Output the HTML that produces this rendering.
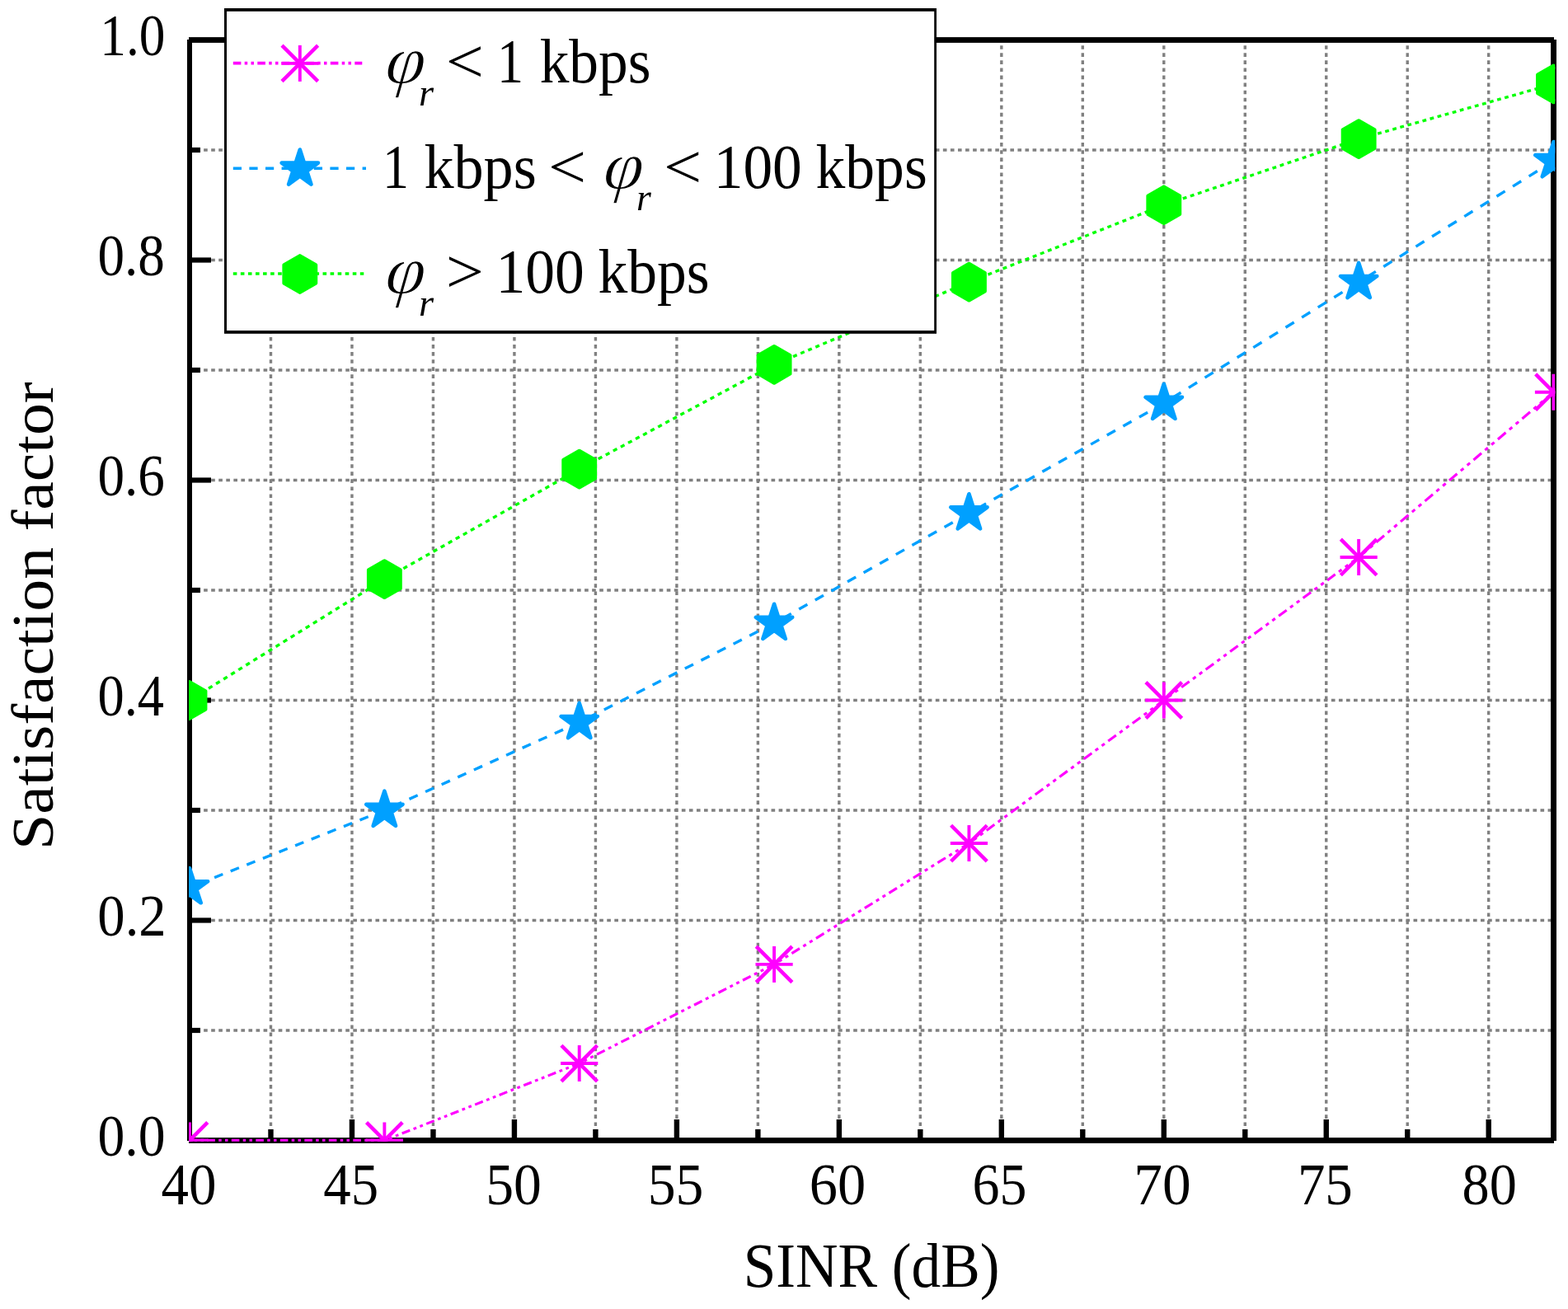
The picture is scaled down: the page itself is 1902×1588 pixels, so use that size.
<!DOCTYPE html>
<html lang="en"><head><meta charset="utf-8"><title>Satisfaction factor vs SINR</title>
<style>html,body{margin:0;padding:0;background:#fff}body{width:1902px;height:1588px;overflow:hidden}svg{display:block;font-family:"Liberation Serif","DejaVu Serif",serif;font-size:100px;fill:#000}</style>
</head><body>
<svg width="1902" height="1588" viewBox="0 0 1902 1588">
<rect x="0" y="0" width="1902" height="1588" fill="#fff"/>
<defs><clipPath id="plotclip"><rect x="229" y="40" width="1657.3" height="1344.8"/></clipPath></defs>
<g stroke="#808080" fill="none">
<line x1="328.48" y1="46.13" x2="328.48" y2="1381" stroke-width="3.4" stroke-dasharray="4.65 4.421"/>
<line x1="426.96" y1="46.13" x2="426.96" y2="1381" stroke-width="3.4" stroke-dasharray="4.65 4.421"/>
<line x1="525.45" y1="46.13" x2="525.45" y2="1381" stroke-width="3.4" stroke-dasharray="4.65 4.421"/>
<line x1="623.93" y1="46.13" x2="623.93" y2="1381" stroke-width="3.4" stroke-dasharray="4.65 4.421"/>
<line x1="722.41" y1="46.13" x2="722.41" y2="1381" stroke-width="3.4" stroke-dasharray="4.65 4.421"/>
<line x1="820.89" y1="46.13" x2="820.89" y2="1381" stroke-width="3.4" stroke-dasharray="4.65 4.421"/>
<line x1="919.38" y1="46.13" x2="919.38" y2="1381" stroke-width="3.4" stroke-dasharray="4.65 4.421"/>
<line x1="1017.86" y1="46.13" x2="1017.86" y2="1381" stroke-width="3.4" stroke-dasharray="4.65 4.421"/>
<line x1="1116.34" y1="46.13" x2="1116.34" y2="1381" stroke-width="3.4" stroke-dasharray="4.65 4.421"/>
<line x1="1214.82" y1="46.13" x2="1214.82" y2="1381" stroke-width="3.4" stroke-dasharray="4.65 4.421"/>
<line x1="1313.30" y1="46.13" x2="1313.30" y2="1381" stroke-width="3.4" stroke-dasharray="4.65 4.421"/>
<line x1="1411.79" y1="46.13" x2="1411.79" y2="1381" stroke-width="3.4" stroke-dasharray="4.65 4.421"/>
<line x1="1510.27" y1="46.13" x2="1510.27" y2="1381" stroke-width="3.4" stroke-dasharray="4.65 4.421"/>
<line x1="1608.75" y1="46.13" x2="1608.75" y2="1381" stroke-width="3.4" stroke-dasharray="4.65 4.421"/>
<line x1="1707.23" y1="46.13" x2="1707.23" y2="1381" stroke-width="3.4" stroke-dasharray="4.65 4.421"/>
<line x1="1805.71" y1="46.13" x2="1805.71" y2="1381" stroke-width="3.4" stroke-dasharray="4.65 4.421"/>
<line x1="229" y1="1250.00" x2="1882" y2="1250.00" stroke-width="3.5" stroke-dasharray="4.65 4.408"/>
<line x1="229" y1="1116.50" x2="1882" y2="1116.50" stroke-width="3.5" stroke-dasharray="4.65 4.408"/>
<line x1="229" y1="983.00" x2="1882" y2="983.00" stroke-width="3.5" stroke-dasharray="4.65 4.408"/>
<line x1="229" y1="849.50" x2="1882" y2="849.50" stroke-width="3.5" stroke-dasharray="4.65 4.408"/>
<line x1="229" y1="716.00" x2="1882" y2="716.00" stroke-width="3.5" stroke-dasharray="4.65 4.408"/>
<line x1="229" y1="582.50" x2="1882" y2="582.50" stroke-width="3.5" stroke-dasharray="4.65 4.408"/>
<line x1="229" y1="449.00" x2="1882" y2="449.00" stroke-width="3.5" stroke-dasharray="4.65 4.408"/>
<line x1="229" y1="315.50" x2="1882" y2="315.50" stroke-width="3.5" stroke-dasharray="4.65 4.408"/>
<line x1="229" y1="182.00" x2="1882" y2="182.00" stroke-width="3.5" stroke-dasharray="4.65 4.408"/>
</g>
<g fill="#000">
<rect x="325.28" y="1370.00" width="6.4" height="12"/>
<rect x="423.76" y="1358.00" width="6.4" height="24"/>
<rect x="522.25" y="1370.00" width="6.4" height="12"/>
<rect x="620.73" y="1358.00" width="6.4" height="24"/>
<rect x="719.21" y="1370.00" width="6.4" height="12"/>
<rect x="817.69" y="1358.00" width="6.4" height="24"/>
<rect x="916.17" y="1370.00" width="6.4" height="12"/>
<rect x="1014.66" y="1358.00" width="6.4" height="24"/>
<rect x="1113.14" y="1370.00" width="6.4" height="12"/>
<rect x="1211.62" y="1358.00" width="6.4" height="24"/>
<rect x="1310.10" y="1370.00" width="6.4" height="12"/>
<rect x="1408.59" y="1358.00" width="6.4" height="24"/>
<rect x="1507.07" y="1370.00" width="6.4" height="12"/>
<rect x="1605.55" y="1358.00" width="6.4" height="24"/>
<rect x="1704.03" y="1370.00" width="6.4" height="12"/>
<rect x="1802.51" y="1358.00" width="6.4" height="24"/>
<rect x="232" y="1246.90" width="11" height="6.2"/>
<rect x="232" y="1113.40" width="24" height="6.2"/>
<rect x="232" y="979.90" width="11" height="6.2"/>
<rect x="232" y="846.40" width="24" height="6.2"/>
<rect x="232" y="712.90" width="11" height="6.2"/>
<rect x="232" y="579.40" width="24" height="6.2"/>
<rect x="232" y="445.90" width="11" height="6.2"/>
<rect x="232" y="312.40" width="24" height="6.2"/>
<rect x="232" y="178.90" width="11" height="6.2"/>
</g>
<g fill="#000">
<rect x="229" y="45.1" width="1656" height="6.8"/>
<rect x="229" y="1380.1" width="1656" height="6.8"/>
<rect x="227" y="48" width="6" height="1336"/>
<rect x="1881.1" y="48" width="6.9" height="1336"/>
</g>
<g clip-path="url(#plotclip)">
<g fill="none" stroke="#ff00ff"><line x1="230.00" y1="1383.50" x2="466.36" y2="1383.50" stroke-width="3.31" stroke-dasharray="9.600 4.300 3.500 4.300 3.500 4.300" stroke-dashoffset="8.200"/><line x1="466.36" y1="1383.50" x2="702.71" y2="1290.05" stroke-width="3.13" stroke-dasharray="10.323 4.624 3.764 4.624 3.764 4.624" stroke-dashoffset="8.818"/><line x1="702.71" y1="1290.05" x2="939.07" y2="1169.90" stroke-width="3.13" stroke-dasharray="10.769 4.824 3.926 4.824 3.926 4.824" stroke-dashoffset="9.199"/><line x1="939.07" y1="1169.90" x2="1175.43" y2="1023.05" stroke-width="3.13" stroke-dasharray="11.302 5.062 4.121 5.062 4.121 5.062" stroke-dashoffset="9.654"/><line x1="1175.43" y1="1023.05" x2="1411.79" y2="849.50" stroke-width="3.13" stroke-dasharray="11.910 5.335 4.342 5.335 4.342 5.335" stroke-dashoffset="10.173"/><line x1="1411.79" y1="849.50" x2="1648.14" y2="675.95" stroke-width="3.13" stroke-dasharray="11.910 5.335 4.342 5.335 4.342 5.335" stroke-dashoffset="10.173"/><line x1="1648.14" y1="675.95" x2="1884.50" y2="475.70" stroke-width="3.13" stroke-dasharray="12.582 5.636 4.587 5.636 4.587 5.636" stroke-dashoffset="10.747"/></g>
<g stroke="#ff00ff" fill="none" stroke-linecap="butt"><line x1="207.40" y1="1383.50" x2="252.60" y2="1383.50" stroke-width="3.9"/><line x1="230.00" y1="1361.50" x2="230.00" y2="1405.50" stroke-width="3.9"/><line x1="208.20" y1="1361.70" x2="251.80" y2="1405.30" stroke-width="4.5"/><line x1="208.20" y1="1405.30" x2="251.80" y2="1361.70" stroke-width="4.5"/></g>
<g stroke="#ff00ff" fill="none" stroke-linecap="butt"><line x1="443.76" y1="1383.50" x2="488.96" y2="1383.50" stroke-width="3.9"/><line x1="466.36" y1="1361.50" x2="466.36" y2="1405.50" stroke-width="3.9"/><line x1="444.56" y1="1361.70" x2="488.16" y2="1405.30" stroke-width="4.5"/><line x1="444.56" y1="1405.30" x2="488.16" y2="1361.70" stroke-width="4.5"/></g>
<g stroke="#ff00ff" fill="none" stroke-linecap="butt"><line x1="680.11" y1="1290.05" x2="725.31" y2="1290.05" stroke-width="3.9"/><line x1="702.71" y1="1268.05" x2="702.71" y2="1312.05" stroke-width="3.9"/><line x1="680.91" y1="1268.25" x2="724.51" y2="1311.85" stroke-width="4.5"/><line x1="680.91" y1="1311.85" x2="724.51" y2="1268.25" stroke-width="4.5"/></g>
<g stroke="#ff00ff" fill="none" stroke-linecap="butt"><line x1="916.47" y1="1169.90" x2="961.67" y2="1169.90" stroke-width="3.9"/><line x1="939.07" y1="1147.90" x2="939.07" y2="1191.90" stroke-width="3.9"/><line x1="917.27" y1="1148.10" x2="960.87" y2="1191.70" stroke-width="4.5"/><line x1="917.27" y1="1191.70" x2="960.87" y2="1148.10" stroke-width="4.5"/></g>
<g stroke="#ff00ff" fill="none" stroke-linecap="butt"><line x1="1152.83" y1="1023.05" x2="1198.03" y2="1023.05" stroke-width="3.9"/><line x1="1175.43" y1="1001.05" x2="1175.43" y2="1045.05" stroke-width="3.9"/><line x1="1153.63" y1="1001.25" x2="1197.23" y2="1044.85" stroke-width="4.5"/><line x1="1153.63" y1="1044.85" x2="1197.23" y2="1001.25" stroke-width="4.5"/></g>
<g stroke="#ff00ff" fill="none" stroke-linecap="butt"><line x1="1389.19" y1="849.50" x2="1434.39" y2="849.50" stroke-width="3.9"/><line x1="1411.79" y1="827.50" x2="1411.79" y2="871.50" stroke-width="3.9"/><line x1="1389.99" y1="827.70" x2="1433.59" y2="871.30" stroke-width="4.5"/><line x1="1389.99" y1="871.30" x2="1433.59" y2="827.70" stroke-width="4.5"/></g>
<g stroke="#ff00ff" fill="none" stroke-linecap="butt"><line x1="1625.54" y1="675.95" x2="1670.74" y2="675.95" stroke-width="3.9"/><line x1="1648.14" y1="653.95" x2="1648.14" y2="697.95" stroke-width="3.9"/><line x1="1626.34" y1="654.15" x2="1669.94" y2="697.75" stroke-width="4.5"/><line x1="1626.34" y1="697.75" x2="1669.94" y2="654.15" stroke-width="4.5"/></g>
<g stroke="#ff00ff" fill="none" stroke-linecap="butt"><line x1="1861.90" y1="475.70" x2="1907.10" y2="475.70" stroke-width="3.9"/><line x1="1884.50" y1="453.70" x2="1884.50" y2="497.70" stroke-width="3.9"/><line x1="1862.70" y1="453.90" x2="1906.30" y2="497.50" stroke-width="4.5"/><line x1="1862.70" y1="497.50" x2="1906.30" y2="453.90" stroke-width="4.5"/></g>
<g fill="none" stroke="#00a0ff"><line x1="230.00" y1="1076.45" x2="466.36" y2="983.00" stroke-width="3.40" stroke-dasharray="10.968 10.108" stroke-dashoffset="9.785"/><line x1="466.36" y1="983.00" x2="702.71" y2="876.20" stroke-width="3.40" stroke-dasharray="11.193 10.315" stroke-dashoffset="9.986"/><line x1="702.71" y1="876.20" x2="939.07" y2="756.05" stroke-width="3.40" stroke-dasharray="11.442 10.545" stroke-dashoffset="10.208"/><line x1="939.07" y1="756.05" x2="1175.43" y2="622.55" stroke-width="3.40" stroke-dasharray="11.715 10.796" stroke-dashoffset="10.451"/><line x1="1175.43" y1="622.55" x2="1411.79" y2="489.05" stroke-width="3.40" stroke-dasharray="11.715 10.796" stroke-dashoffset="10.451"/><line x1="1411.79" y1="489.05" x2="1648.14" y2="342.20" stroke-width="3.40" stroke-dasharray="12.008 11.067" stroke-dashoffset="10.713"/><line x1="1648.14" y1="342.20" x2="1884.50" y2="195.35" stroke-width="3.40" stroke-dasharray="12.008 11.067" stroke-dashoffset="10.713"/></g>
<polygon points="230.00,1053.15 235.23,1069.25 252.16,1069.25 238.46,1079.20 243.70,1095.30 230.00,1085.35 216.30,1095.30 221.54,1079.20 207.84,1069.25 224.77,1069.25" fill="#00a0ff" stroke="#00a0ff" stroke-width="4.6" stroke-linejoin="round"/>
<polygon points="466.36,959.70 471.59,975.80 488.52,975.80 474.82,985.75 480.05,1001.85 466.36,991.90 452.66,1001.85 457.89,985.75 444.20,975.80 461.13,975.80" fill="#00a0ff" stroke="#00a0ff" stroke-width="4.6" stroke-linejoin="round"/>
<polygon points="702.71,852.90 707.95,869.00 724.87,869.00 711.18,878.95 716.41,895.05 702.71,885.10 689.02,895.05 694.25,878.95 680.55,869.00 697.48,869.00" fill="#00a0ff" stroke="#00a0ff" stroke-width="4.6" stroke-linejoin="round"/>
<polygon points="939.07,732.75 944.30,748.85 961.23,748.85 947.54,758.80 952.77,774.90 939.07,764.95 925.38,774.90 930.61,758.80 916.91,748.85 933.84,748.85" fill="#00a0ff" stroke="#00a0ff" stroke-width="4.6" stroke-linejoin="round"/>
<polygon points="1175.43,599.25 1180.66,615.35 1197.59,615.35 1183.89,625.30 1189.12,641.40 1175.43,631.45 1161.73,641.40 1166.96,625.30 1153.27,615.35 1170.20,615.35" fill="#00a0ff" stroke="#00a0ff" stroke-width="4.6" stroke-linejoin="round"/>
<polygon points="1411.79,465.75 1417.02,481.85 1433.95,481.85 1420.25,491.80 1425.48,507.90 1411.79,497.95 1398.09,507.90 1403.32,491.80 1389.63,481.85 1406.55,481.85" fill="#00a0ff" stroke="#00a0ff" stroke-width="4.6" stroke-linejoin="round"/>
<polygon points="1648.14,318.90 1653.37,335.00 1670.30,335.00 1656.61,344.95 1661.84,361.05 1648.14,351.10 1634.45,361.05 1639.68,344.95 1625.98,335.00 1642.91,335.00" fill="#00a0ff" stroke="#00a0ff" stroke-width="4.6" stroke-linejoin="round"/>
<polygon points="1884.50,172.05 1889.73,188.15 1906.66,188.15 1892.96,198.10 1898.20,214.20 1884.50,204.25 1870.80,214.20 1876.04,198.10 1862.34,188.15 1879.27,188.15" fill="#00a0ff" stroke="#00a0ff" stroke-width="4.6" stroke-linejoin="round"/>
<g fill="none" stroke="#00ff00"><line x1="230.00" y1="849.50" x2="466.36" y2="702.65" stroke-width="3.40" stroke-dasharray="5.416 5.251" stroke-dashoffset="4.898"/><line x1="466.36" y1="702.65" x2="702.71" y2="569.15" stroke-width="3.40" stroke-dasharray="5.283 5.122" stroke-dashoffset="4.778"/><line x1="702.71" y1="569.15" x2="939.07" y2="442.33" stroke-width="3.40" stroke-dasharray="5.220 5.062" stroke-dashoffset="4.721"/><line x1="939.07" y1="442.33" x2="1175.43" y2="342.20" stroke-width="3.40" stroke-dasharray="4.996 4.844" stroke-dashoffset="4.518"/><line x1="1175.43" y1="342.20" x2="1411.79" y2="248.75" stroke-width="3.40" stroke-dasharray="4.946 4.796" stroke-dashoffset="4.473"/><line x1="1411.79" y1="248.75" x2="1648.14" y2="168.65" stroke-width="3.40" stroke-dasharray="4.857 4.709" stroke-dashoffset="4.392"/><line x1="1648.14" y1="168.65" x2="1884.50" y2="101.90" stroke-width="3.40" stroke-dasharray="4.780 4.634" stroke-dashoffset="4.323"/></g>
<polygon points="230.00,827.40 249.14,838.45 249.14,860.55 230.00,871.60 210.86,860.55 210.86,838.45" fill="#00ff00" stroke="#00ff00" stroke-width="4.6" stroke-linejoin="round"/>
<polygon points="466.36,680.55 485.50,691.60 485.50,713.70 466.36,724.75 447.22,713.70 447.22,691.60" fill="#00ff00" stroke="#00ff00" stroke-width="4.6" stroke-linejoin="round"/>
<polygon points="702.71,547.05 721.85,558.10 721.85,580.20 702.71,591.25 683.58,580.20 683.58,558.10" fill="#00ff00" stroke="#00ff00" stroke-width="4.6" stroke-linejoin="round"/>
<polygon points="939.07,420.23 958.21,431.28 958.21,453.38 939.07,464.43 919.93,453.38 919.93,431.28" fill="#00ff00" stroke="#00ff00" stroke-width="4.6" stroke-linejoin="round"/>
<polygon points="1175.43,320.10 1194.57,331.15 1194.57,353.25 1175.43,364.30 1156.29,353.25 1156.29,331.15" fill="#00ff00" stroke="#00ff00" stroke-width="4.6" stroke-linejoin="round"/>
<polygon points="1411.79,226.65 1430.92,237.70 1430.92,259.80 1411.79,270.85 1392.65,259.80 1392.65,237.70" fill="#00ff00" stroke="#00ff00" stroke-width="4.6" stroke-linejoin="round"/>
<polygon points="1648.14,146.55 1667.28,157.60 1667.28,179.70 1648.14,190.75 1629.00,179.70 1629.00,157.60" fill="#00ff00" stroke="#00ff00" stroke-width="4.6" stroke-linejoin="round"/>
<polygon points="1884.50,79.80 1903.64,90.85 1903.64,112.95 1884.50,124.00 1865.36,112.95 1865.36,90.85" fill="#00ff00" stroke="#00ff00" stroke-width="4.6" stroke-linejoin="round"/>
</g>
<text transform="matrix(0.6326 0 0 0.7270 121.33 67.20)">1.0</text>
<text transform="matrix(0.6516 0 0 0.7270 118.42 334.20)">0.8</text>
<text transform="matrix(0.6523 0 0 0.7270 118.42 601.20)">0.6</text>
<text transform="matrix(0.6446 0 0 0.7270 118.45 868.20)">0.4</text>
<text transform="matrix(0.6664 0 0 0.7270 118.37 1135.20)">0.2</text>
<text transform="matrix(0.6567 0 0 0.7270 118.40 1402.20)">0.0</text>
<text transform="matrix(0.6699 0 0 0.7270 195.46 1461.20)">40</text>
<text transform="matrix(0.6684 0 0 0.7270 392.36 1461.20)">45</text>
<text transform="matrix(0.6770 0 0 0.7270 589.27 1461.20)">50</text>
<text transform="matrix(0.6777 0 0 0.7270 785.67 1461.20)">55</text>
<text transform="matrix(0.6844 0 0 0.7270 981.86 1461.20)">60</text>
<text transform="matrix(0.6590 0 0 0.7270 1179.47 1461.20)">65</text>
<text transform="matrix(0.6942 0 0 0.7270 1375.22 1461.20)">70</text>
<text transform="matrix(0.6693 0 0 0.7270 1573.88 1461.20)">75</text>
<text transform="matrix(0.6634 0 0 0.7270 1773.58 1461.20)">80</text>
<text transform="matrix(0.7125 0 0 0.7550 901.73 1560.80)">SINR (dB)</text>
<text transform="matrix(0 -0.7775 0.7240 0 64.2 1031.01)">Satisfaction factor</text>
<rect x="272" y="10" width="864" height="394.8" fill="#000"/>
<rect x="275" y="13.8" width="858.2" height="387.2" fill="#fff"/>
<line x1="282.8" y1="76.6" x2="439.3" y2="76.6" stroke="#ff00ff" stroke-width="3.6" stroke-dasharray="9.600 4.300 3.500 4.300 3.500 4.300"/>
<g stroke="#ff00ff" fill="none" stroke-linecap="butt"><line x1="341.20" y1="76.90" x2="386.40" y2="76.90" stroke-width="3.9"/><line x1="363.80" y1="54.90" x2="363.80" y2="98.90" stroke-width="3.9"/><line x1="342.00" y1="55.10" x2="385.60" y2="98.70" stroke-width="4.5"/><line x1="342.00" y1="98.70" x2="385.60" y2="55.10" stroke-width="4.5"/></g>
<text transform="matrix(0.866 0 -0.083 0.8325 466.10 100.55)" font-style="italic" stroke="#fff" stroke-width="1.4">φ</text>
<text transform="matrix(0.4644 0 0 0.4540 508.00 127.90)" font-style="italic">r</text>
<text transform="matrix(0.8194 0 0 0.7700 540.80 99.90)">&lt;</text>
<text transform="matrix(0.6400 0 0 0.7660 603.10 100.00)">1</text>
<text transform="matrix(0.7143 0 0 0.7510 654.64 100.00)">kbps</text>
<line x1="282.8" y1="204.3" x2="444.0" y2="204.3" stroke="#00a0ff" stroke-width="3.6" stroke-dasharray="10.200 9.400"/>
<polygon points="363.80,181.50 369.03,197.60 385.96,197.60 372.26,207.55 377.50,223.65 363.80,213.70 350.10,223.65 355.34,207.55 341.64,197.60 358.57,197.60" fill="#00a0ff" stroke="#00a0ff" stroke-width="4.6" stroke-linejoin="round"/>
<text transform="matrix(0.6400 0 0 0.7660 464.10 228.10)">1</text>
<text transform="matrix(0.7219 0 0 0.7510 514.43 228.10)">kbps</text>
<text transform="matrix(0.8172 0 0 0.7700 665.01 228.00)">&lt;</text>
<text transform="matrix(0.866 0 -0.083 0.8325 730.40 228.65)" font-style="italic" stroke="#fff" stroke-width="1.4">φ</text>
<text transform="matrix(0.4587 0 0 0.4540 771.92 254.90)" font-style="italic">r</text>
<text transform="matrix(0.8194 0 0 0.7700 805.00 228.00)">&lt;</text>
<text transform="matrix(0.7140 0 0 0.7510 865.72 228.10)">100</text>
<text transform="matrix(0.7159 0 0 0.7510 989.54 228.10)">kbps</text>
<line x1="282.8" y1="332.0" x2="441.3" y2="332.0" stroke="#00ff00" stroke-width="3.6" stroke-dasharray="4.600 4.460"/>
<polygon points="363.80,310.40 382.94,321.45 382.94,343.55 363.80,354.60 344.66,343.55 344.66,321.45" fill="#00ff00" stroke="#00ff00" stroke-width="4.6" stroke-linejoin="round"/>
<text transform="matrix(0.866 0 -0.083 0.8325 466.10 355.55)" font-style="italic" stroke="#fff" stroke-width="1.4">φ</text>
<text transform="matrix(0.4644 0 0 0.4540 508.00 382.90)" font-style="italic">r</text>
<text transform="matrix(0.8194 0 0 0.7700 540.72 354.90)">&gt;</text>
<text transform="matrix(0.7154 0 0 0.7510 601.50 355.00)">100</text>
<text transform="matrix(0.7154 0 0 0.7510 725.54 355.00)">kbps</text>
</svg></body></html>
